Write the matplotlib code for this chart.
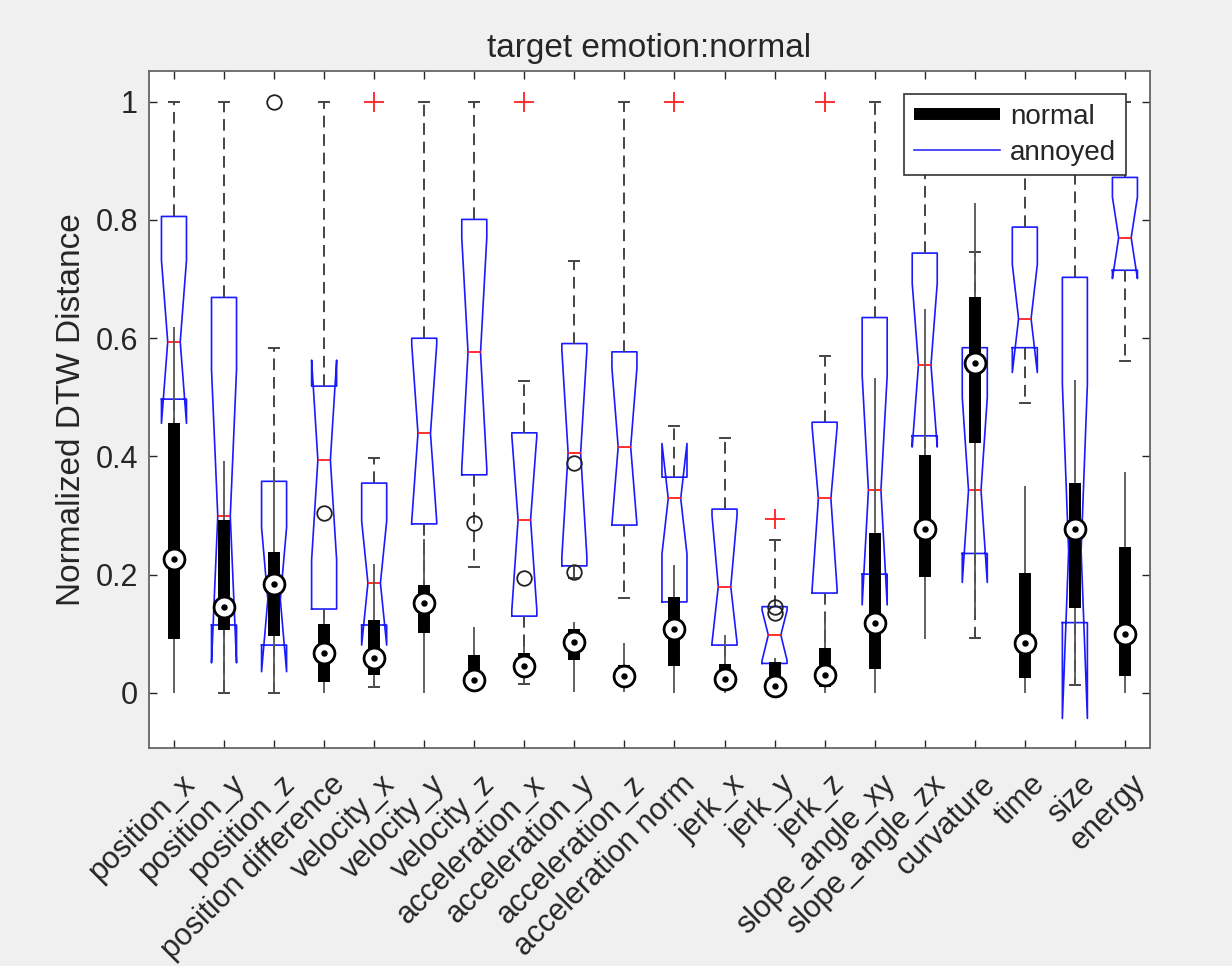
import numpy as np
import matplotlib.pyplot as plt
import matplotlib.transforms as mtransforms
from matplotlib.lines import Line2D

plt.rcParams['font.family'] = ['Liberation Sans', 'DejaVu Sans']

labels = ['position_x', 'position_y', 'position_z', 'position difference',
          'velocity_x', 'velocity_y', 'velocity_z', 'acceleration_x',
          'acceleration_y', 'acceleration_z', 'acceleration norm', 'jerk_x',
          'jerk_y', 'jerk_z', 'slope_angle_xy', 'slope_angle_zx', 'curvature',
          'time', 'size', 'energy']

# annoyed (notched boxes)
an_q1 = [0.497, 0.115, 0.081, 0.142, 0.115, 0.286, 0.369, 0.130, 0.215, 0.284,
         0.154, 0.081, 0.050, 0.169, 0.201, 0.435, 0.236, 0.584, 0.119, 0.715]
an_med = [0.594, 0.299, 0.158, 0.394, 0.186, 0.439, 0.576, 0.293, 0.406, 0.416,
          0.329, 0.180, 0.098, 0.329, 0.343, 0.555, 0.343, 0.633, 0.240, 0.770]
an_q3 = [0.806, 0.669, 0.358, 0.519, 0.355, 0.600, 0.801, 0.440, 0.591, 0.577,
         0.365, 0.311, 0.146, 0.458, 0.635, 0.744, 0.584, 0.788, 0.703, 0.872]
an_cilo = [0.456, 0.051, 0.036, 0.225, 0.081, 0.290, 0.380, 0.140, 0.230, 0.285,
           0.235, 0.085, 0.055, 0.175, 0.149, 0.416, 0.187, 0.542, -0.043, 0.701]
an_cihi = [0.732, 0.547, 0.280, 0.563, 0.291, 0.590, 0.770, 0.435, 0.580, 0.550,
           0.422, 0.300, 0.140, 0.450, 0.537, 0.693, 0.500, 0.725, 0.523, 0.839]
an_wlo = [0.150, 0.000, 0.000, 0.060, 0.010, 0.120, 0.213, 0.015, 0.195, 0.160,
          0.060, 0.030, 0.010, 0.050, 0.050, 0.200, 0.093, 0.490, 0.014, 0.562]
an_whi = [1.000, 1.000, 0.584, 1.000, 0.398, 1.000, 1.000, 0.527, 0.731, 1.000,
          0.451, 0.432, 0.258, 0.570, 1.000, 1.000, 0.746, 1.000, 1.000, 1.000]
an_out = [[], [], [], [], [1.0], [], [], [1.0], [], [],
          [1.0], [], [0.294], [1.0], [], [], [], [], [], []]

# normal (compact boxes)
no_q1 = [0.092, 0.106, 0.096, 0.019, 0.030, 0.101, 0.010, 0.030, 0.056, 0.015,
         0.045, 0.010, 0.005, 0.010, 0.040, 0.197, 0.423, 0.025, 0.143, 0.028]
no_med = [0.226, 0.146, 0.184, 0.067, 0.059, 0.153, 0.022, 0.046, 0.086, 0.029,
          0.108, 0.023, 0.012, 0.030, 0.119, 0.278, 0.558, 0.084, 0.277, 0.099]
no_q3 = [0.457, 0.292, 0.238, 0.117, 0.123, 0.183, 0.064, 0.067, 0.108, 0.047,
         0.163, 0.049, 0.053, 0.076, 0.271, 0.402, 0.669, 0.203, 0.355, 0.247]
no_wlo = [0.000, 0.000, 0.000, 0.000, 0.010, 0.000, 0.002, 0.015, 0.002, 0.002,
          0.000, 0.000, 0.000, 0.000, 0.000, 0.091, 0.130, 0.000, 0.014, 0.000]
no_whi = [0.619, 0.392, 0.383, 0.140, 0.218, 0.260, 0.112, 0.080, 0.120, 0.084,
          0.216, 0.098, 0.060, 0.135, 0.532, 0.650, 0.829, 0.350, 0.529, 0.374]
no_out = [[], [], [1.0], [0.305], [], [], [0.287], [0.194], [0.389, 0.205], [],
          [], [], [0.146, 0.135], [], [], [], [], [], [], []]

pos = np.arange(1, len(labels) + 1)

fig = plt.figure(figsize=(12.32, 9.66), dpi=100, facecolor='#f0f0f0')
ax = fig.add_axes([0.1209, 0.2257, 0.8125, 0.7008])

stats = []
for i in range(len(labels)):
    stats.append(dict(med=an_med[i], q1=an_q1[i], q3=an_q3[i],
                      cilo=an_cilo[i], cihi=an_cihi[i],
                      whislo=an_wlo[i], whishi=an_whi[i],
                      fliers=np.array(an_out[i])))

ax.bxp(stats, positions=pos, widths=0.5, capwidths=0.2, shownotches=True,
       boxprops=dict(color='#1a1aff', lw=1.2),
       medianprops=dict(color='#ff2020', lw=1.3),
       whiskerprops=dict(color='#444444', lw=1.4, linestyle=(0, (6, 3.5))),
       capprops=dict(color='#444444', lw=1.4),
       flierprops=dict(marker='+', markeredgecolor='#ff2020', markersize=14,
                       markeredgewidth=1.3, linestyle='none'),
       manage_ticks=False, zorder=2)

# normal: compact style on top
ax.vlines(pos, no_wlo, no_whi, color='#555555', lw=1.3, zorder=3)
ax.vlines(pos, no_q1, no_q3, color='black', lw=8.6, zorder=4, capstyle='butt')
for i in range(len(labels)):
    if no_out[i]:
        ax.plot([pos[i]] * len(no_out[i]), no_out[i], 'o', mfc='none', mec='#222222',
                ms=10.5, mew=1.3, zorder=5)
ax.plot(pos, no_med, 'o', mfc='white', mec='black', ms=15, mew=2.0, zorder=5)
ax.plot(pos, no_med, 'o', color='black', ms=3.6, zorder=6)

ax.set_xlim(0.5, 20.5)
ax.set_ylim(-0.093, 1.052)
ax.set_yticks([0, 0.2, 0.4, 0.6, 0.8, 1])
ax.set_yticklabels(['0', '0.2', '0.4', '0.6', '0.8', '1'])
ax.set_xticks(pos)
ax.set_xticklabels(labels, rotation=45, ha='right', va='center', rotation_mode='anchor')
ax.tick_params(direction='in', length=6, width=1, top=True, right=True,
               labelsize=22, colors='#262626')
ax.tick_params(axis='x', pad=23)
ax.tick_params(axis='y', pad=8)
offset = mtransforms.ScaledTranslation(0.16, 0, fig.dpi_scale_trans)
for lab in ax.get_xticklabels():
    lab.set_transform(lab.get_transform() + offset)
for sp in ax.spines.values():
    sp.set_color('#666666')
    sp.set_linewidth(1.3)

ax.set_title('target emotion:normal', fontsize=24, color='#262626', pad=10)
ax.set_ylabel('Normalized DTW Distance', fontsize=24, color='#262626', labelpad=6)

handles = [Line2D([], [], color='black', lw=8.6, solid_capstyle='butt'),
           Line2D([], [], color='#1a1aff', lw=1.1)]
leg = ax.legend(handles, ['normal', 'annoyed'], loc='upper right',
                bbox_to_anchor=(0.9757, 0.9656), fontsize=20, handlelength=3.1,
                fancybox=False, framealpha=1, edgecolor='#333333',
                borderpad=0.35, labelspacing=0.35, handletextpad=0.35,
                borderaxespad=0)
leg.get_frame().set_linewidth(1.2)
for t in leg.get_texts():
    t.set_color('#262626')

fig.savefig('out.png', dpi=100, facecolor=fig.get_facecolor())
